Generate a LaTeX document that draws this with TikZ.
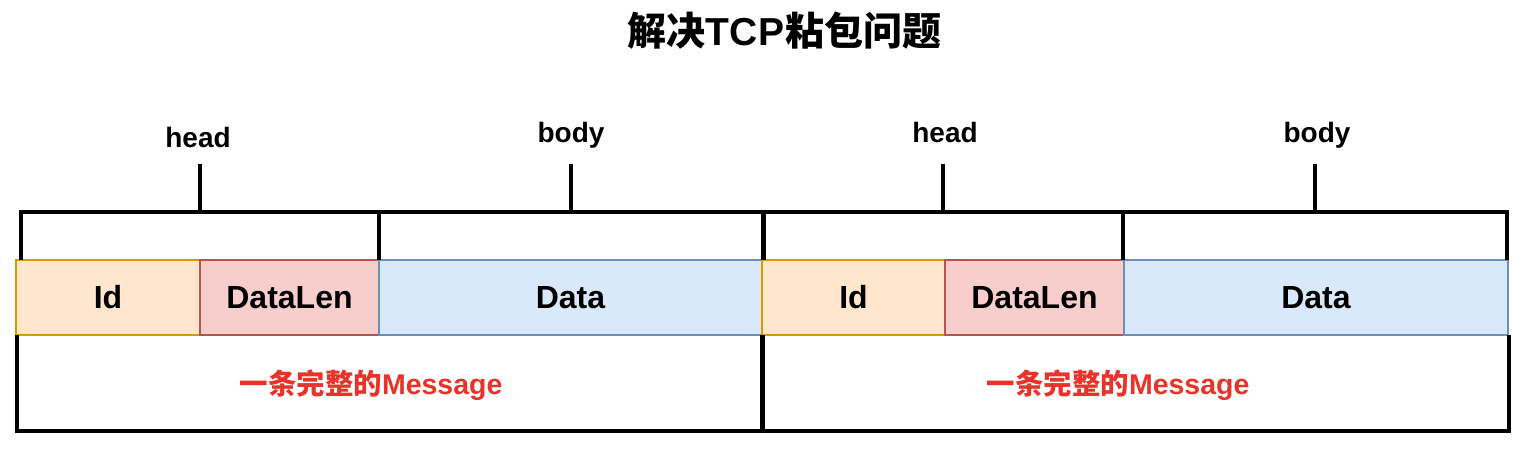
\documentclass[tikz,border=0pt]{standalone}
\usepackage{fontspec}
\setmainfont{Liberation Sans}
\newfontfamily\cjk{Noto Sans CJK SC}
\definecolor{idfill}{HTML}{FFE6CC}
\definecolor{iddraw}{HTML}{D79B00}
\definecolor{lenfill}{HTML}{F8CECC}
\definecolor{lendraw}{HTML}{B85450}
\definecolor{datafill}{HTML}{DAE8FC}
\definecolor{datadraw}{HTML}{6C8EBF}
\definecolor{msgred}{HTML}{E8332A}
\begin{document}
\begin{tikzpicture}[x=1pt,y=-1pt,
  field/.style={rectangle, inner sep=0pt, minimum height=75pt, line width=1.5pt,
    font=\fontsize{32}{36}\selectfont\bfseries},
  idf/.style={field, fill=idfill, draw=iddraw},
  lenf/.style={field, fill=lenfill, draw=lendraw},
  dataf/.style={field, fill=datafill, draw=datadraw},
  brk/.style={line width=3.4pt, draw=black},
  lbl/.style={inner sep=0pt, anchor=base, font=\fontsize{28}{32}\selectfont\bfseries},
  msg/.style={inner sep=0pt, anchor=base, text=msgred, font=\fontsize{28.5}{32}\selectfont\bfseries}]
\useasboundingbox (0,0) rectangle (1524,470);
% title
\node[inner sep=0pt, anchor=base, font=\fontsize{39}{44}\selectfont\bfseries] (title) at (784,46)
  {{\cjk 解决}T\kern1ptC\kern1ptP{\cjk 粘包问题}};
% fields
\node[idf, minimum width=184pt] (id1) at (108,297.5) {Id};
\node[lenf, minimum width=179pt] (len1) at (289.5,297.5) {DataLen};
\node[dataf, minimum width=383pt] (data1) at (570.5,297.5) {Data};
\node[idf, minimum width=183pt] (id2) at (853.5,297.5) {Id};
\node[lenf, minimum width=179pt] (len2) at (1034.5,297.5) {DataLen};
\node[dataf, minimum width=384pt] (data2) at (1316,297.5) {Data};
% brackets
\draw[brk] (21,260) -- (21,212) -- (379,212) -- (379,260);
\draw[brk] (379,212) -- (763,212) -- (763,260);
\draw[brk] (764,260) -- (764,212) -- (1123,212) -- (1123,260);
\draw[brk] (1123,212) -- (1507,212) -- (1507,260);
\draw[brk] (200,212) -- (200,164);
\draw[brk] (571,212) -- (571,164);
\draw[brk] (943,212) -- (943,164);
\draw[brk] (1315,212) -- (1315,164);
% labels
\node[lbl] (h1) at (198,148) {head};
\node[lbl] (b1) at (571,143) {body};
\node[lbl] (h2) at (945,143) {head};
\node[lbl] (b2) at (1317,143) {body};
% message boxes
\draw[brk] (17,335) -- (17,431) -- (762,431) -- (762,335);
\draw[brk] (763,335) -- (763,431) -- (1509,431) -- (1509,335);
\node[msg] (m1) at (371,394) {{\cjk 一条完整的}Message};
\node[msg] (m2) at (1118,394) {{\cjk 一条完整的}Message};
\end{tikzpicture}
\end{document}
